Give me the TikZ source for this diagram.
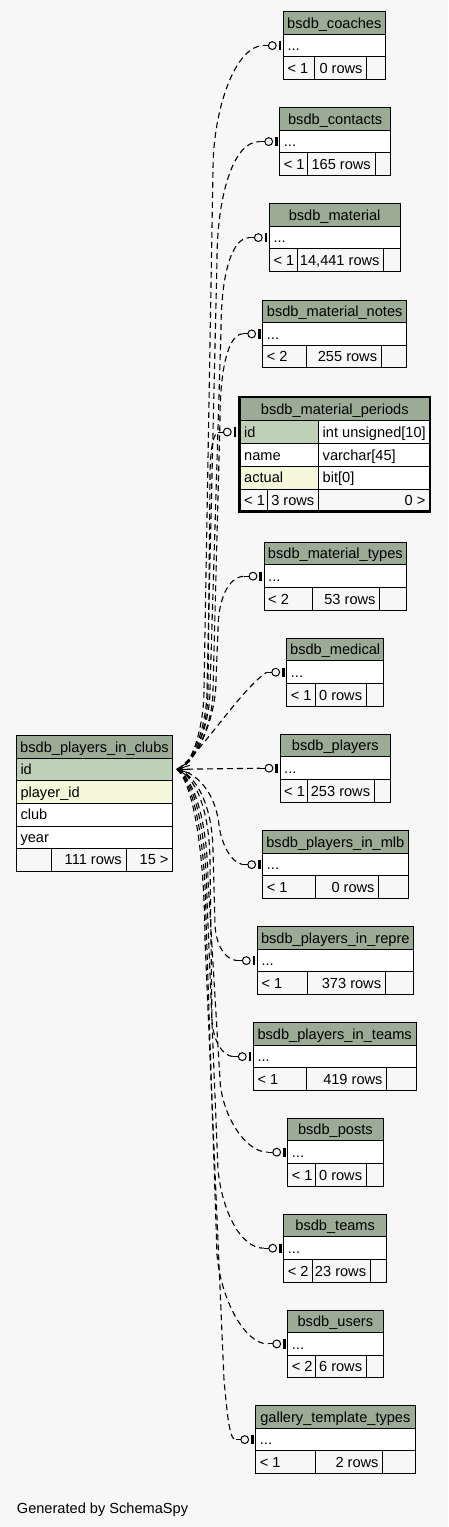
\documentclass[tikz,border=0pt]{standalone}
\usepackage{fontspec}
\setmainfont{Liberation Sans}
\definecolor{bgc}{HTML}{F7F7F7}
\definecolor{hdr}{HTML}{9BAB96}
\definecolor{pkc}{HTML}{BED1B8}
\definecolor{fkc}{HTML}{F4F7DA}
\tikzset{
 txt/.style={inner sep=0pt, font=\fontsize{14.6}{17}\selectfont, text=black},
 tb/.style={draw=black, line width=1pt},
 rel/.style={draw=black, line width=1.1pt, dash pattern=on 6pt off 4pt},
 crow/.style={draw=black, line width=1pt},
 zeroone/.pic={
   \draw[line width=2.6pt] (-3.3,-4.6) -- (-3.3,4.6);
   \draw[line width=1pt, fill=bgc] (-11,0) circle[radius=3.9pt];
   \draw[line width=1pt] (-14.9,0) -- (-20,0);
 }
}
\newcommand\mysmalltab[9]{%
  \fill[white] (#3,#5+22.6) rectangle (#4,#5+45.2);
  \fill[hdr] (#3,#5) rectangle (#4,#5+22.6);
  \draw[tb] (#3,#5) rectangle (#4,#5+67.8);
  \draw[tb] (#3,#5+22.6) -- (#4,#5+22.6);
  \draw[tb] (#3,#5+45.2) -- (#4,#5+45.2);
  \draw[tb] (#6,#5+45.2) -- (#6,#5+67.8);
  \draw[tb] (#7,#5+45.2) -- (#7,#5+67.8);
  \node[txt,anchor=base] (#1) at ({(#3+#4)/2},#5+16.6) {#2};
  \node[txt,anchor=base west] (#1-dots) at (#3+4,#5+39.2) {...};
  \node[txt,anchor=base west] (#1-lo) at (#3+4,#5+61.8) {#8};
  \node[txt,anchor=base east] (#1-cnt) at (#7-4,#5+61.8) {#9};
  \coordinate (#1-in) at (#3-20,#5+33.9);
  \pic at (#3,#5+33.9) {zeroone};
}
\begin{document}
\begin{tikzpicture}[x=1pt,y=-1pt]
\fill[bgc] (0,0) rectangle (448,1527);
\useasboundingbox (0,0) rectangle (448,1527);

% small tables
\mysmalltab{coaches}{bsdb\_coaches}{283.3}{385.3}{11.7}{314.3}{366.7}{< 1}{0 rows}
\mysmalltab{contacts}{bsdb\_contacts}{279.7}{390.7}{107.7}{307.7}{375}{< 1}{165 rows}
\mysmalltab{material}{bsdb\_material}{269.3}{400}{203.7}{297.3}{383.7}{< 1}{14,441 rows}
\mysmalltab{mnotes}{bsdb\_material\_notes}{262.7}{406.7}{300}{306.7}{381.3}{< 2}{255 rows}
\mysmalltab{mtypes}{bsdb\_material\_types}{264}{406.7}{542.3}{312}{379.7}{< 2}{53 rows}
\mysmalltab{medical}{bsdb\_medical}{286.7}{383.7}{638.3}{315.7}{366.3}{< 1}{0 rows}
\mysmalltab{players}{bsdb\_players}{280}{390.7}{734.3}{307.3}{374.3}{< 1}{253 rows}
\mysmalltab{mlb}{bsdb\_players\_in\_mlb}{262.7}{408}{830.7}{315.7}{378.7}{< 1}{0 rows}
\mysmalltab{repre}{bsdb\_players\_in\_repre}{257.3}{413.3}{926.7}{307.7}{385.3}{< 1}{373 rows}
\mysmalltab{pteams}{bsdb\_players\_in\_teams}{253.3}{416}{1022.7}{306.7}{386.7}{< 1}{419 rows}
\mysmalltab{posts}{bsdb\_posts}{287.7}{383}{1118.3}{315.7}{366.3}{< 1}{0 rows}
\mysmalltab{teams}{bsdb\_teams}{283.7}{386.7}{1214.3}{312}{370.3}{< 2}{23 rows}
\mysmalltab{users}{bsdb\_users}{287.7}{383}{1310}{315.7}{366.3}{< 2}{6 rows}
\mysmalltab{gallery}{gallery\_template\_types}{255.7}{415}{1405.7}{315.7}{382.7}{< 1}{2 rows}

% bsdb_material_periods (focus table)
\fill[hdr] (239.5,397.2) rectangle (430.1,420.7);
\fill[pkc] (239.5,420.7) rectangle (318.7,443.3);
\fill[white] (318.7,420.7) rectangle (430.1,443.3);
\fill[white] (239.5,443.3) rectangle (430.1,466);
\fill[fkc] (239.5,466) rectangle (318.7,489);
\fill[white] (318.7,466) rectangle (430.1,489);
\draw[tb] (239.5,420.7) -- (430.1,420.7);
\draw[tb] (239.5,443.3) -- (430.1,443.3);
\draw[tb] (239.5,466) -- (430.1,466);
\draw[tb] (239.5,489) -- (430.1,489);
\draw[tb] (318.7,420.7) -- (318.7,511.5);
\draw[tb] (267.7,489) -- (267.7,511.5);
\draw[line width=2.4pt] (239.5,397.2) rectangle (430.1,511.5);
\node[txt,anchor=base] (periods) at (334.8,414.3) {bsdb\_material\_periods};
\node[txt,anchor=base west] (periods-id) at (244,437.3) {id};
\node[txt,anchor=base west] (periods-idt) at (322.5,437.3) {int unsigned[10]};
\node[txt,anchor=base west] (periods-name) at (244,460) {name};
\node[txt,anchor=base west] (periods-namet) at (322.5,460) {varchar[45]};
\node[txt,anchor=base west] (periods-act) at (244,482.6) {actual};
\node[txt,anchor=base west] (periods-actt) at (322.5,482.6) {bit[0]};
\node[txt,anchor=base west] (periods-lo) at (244,505.3) {< 1};
\node[txt,anchor=base east] (periods-cnt) at (314.5,505.3) {3 rows};
\node[txt,anchor=base east] (periods-hi) at (425.5,505.3) {0 >};
\coordinate (periods-in) at (218.3,432);
\pic at (238.3,432) {zeroone};

% bsdb_players_in_clubs
\fill[hdr] (16.3,735.7) rectangle (172.7,758);
\fill[pkc] (16.3,758) rectangle (172.7,780.7);
\fill[fkc] (16.3,780.7) rectangle (172.7,803.3);
\fill[white] (16.3,803.3) rectangle (172.7,848.3);
\draw[tb] (16.3,735.7) rectangle (172.7,871);
\draw[tb] (16.3,758) -- (172.7,758);
\draw[tb] (16.3,780.7) -- (172.7,780.7);
\draw[tb] (16.3,803.3) -- (172.7,803.3);
\draw[tb] (16.3,826) -- (172.7,826);
\draw[tb] (16.3,848.3) -- (172.7,848.3);
\draw[tb] (51.7,848.3) -- (51.7,871);
\draw[tb] (126,848.3) -- (126,871);
\node[txt,anchor=base] (clubs) at (94.5,752.3) {bsdb\_players\_in\_clubs};
\node[txt,anchor=base west] (clubs-id) at (20.3,774.6) {id};
\node[txt,anchor=base west] (clubs-pid) at (20.3,797.3) {player\_id};
\node[txt,anchor=base west] (clubs-club) at (20.3,819.9) {club};
\node[txt,anchor=base west] (clubs-year) at (20.3,842.6) {year};
\node[txt,anchor=base east] (clubs-cnt) at (122,864.9) {111 rows};
\node[txt,anchor=base east] (clubs-hi) at (168.7,864.9) {15 >};
\coordinate (cf) at (177,769.3);

% crow's foot
\draw[crow] (cf) -- (190,761) (cf) -- (190,765.3) (cf) -- (190,769.3) (cf) -- (190,773.3) (cf) -- (190,777.5);

% relationships
\draw[rel] (cf) .. controls (192,769) and (204,725) .. (204,690) -- (213,170) .. controls (213,110) and (235,46) .. (coaches-in);
\draw[rel] (cf) .. controls (192,768) and (207,725) .. (207,690) -- (217,260) .. controls (217,200) and (232,141) .. (contacts-in);
\draw[rel] (cf) .. controls (193,767) and (210,725) .. (210,690) -- (221,330) .. controls (221,280) and (230,238) .. (material-in);
\draw[rel] (cf) .. controls (194,766) and (213,725) .. (213,690) -- (220,420) .. controls (220,370) and (228,334) .. (mnotes-in);
\draw[rel] (cf) .. controls (193,768) and (208,730) .. (208,690) -- (210,480) .. controls (210,455) and (212,434) .. (periods-in);
\draw[rel] (cf) .. controls (195,765) and (216,720) .. (216,680) -- (218,630) .. controls (218,600) and (228,577) .. (mtypes-in);
\draw[rel] (cf) .. controls (200,755) and (240,690) .. (medical-in);
\draw[rel] (cf) -- (players-in);
\draw[rel] (cf) .. controls (195,772) and (215,790) .. (219,825) .. controls (221,842) and (230,862) .. (mlb-in);
\draw[rel] (cf) .. controls (193,773) and (212,800) .. (213,850) -- (215,925) .. controls (216,945) and (225,960) .. (repre-in);
\draw[rel] (cf) .. controls (191,774) and (209,800) .. (210,860) -- (212,1020) .. controls (213,1040) and (222,1056) .. (pteams-in);
\draw[rel] (cf) .. controls (190,775) and (207,810) .. (208,880) -- (220,1080) .. controls (222,1115) and (245,1152) .. (posts-in);
\draw[rel] (cf) .. controls (190,776) and (206,815) .. (207,900) -- (218,1170) .. controls (222,1210) and (240,1248) .. (teams-in);
\draw[rel] (cf) .. controls (189,777) and (205,820) .. (206,920) -- (217,1255) .. controls (221,1300) and (245,1344) .. (users-in);
\draw[rel] (cf) .. controls (188,778) and (204,825) .. (205,940) -- (224,1380) .. controls (227,1410) and (229,1440) .. (gallery-in);

\node[txt,anchor=base west] (gen) at (16.7,1513.3) {Generated by SchemaSpy};
\end{tikzpicture}
\end{document}
